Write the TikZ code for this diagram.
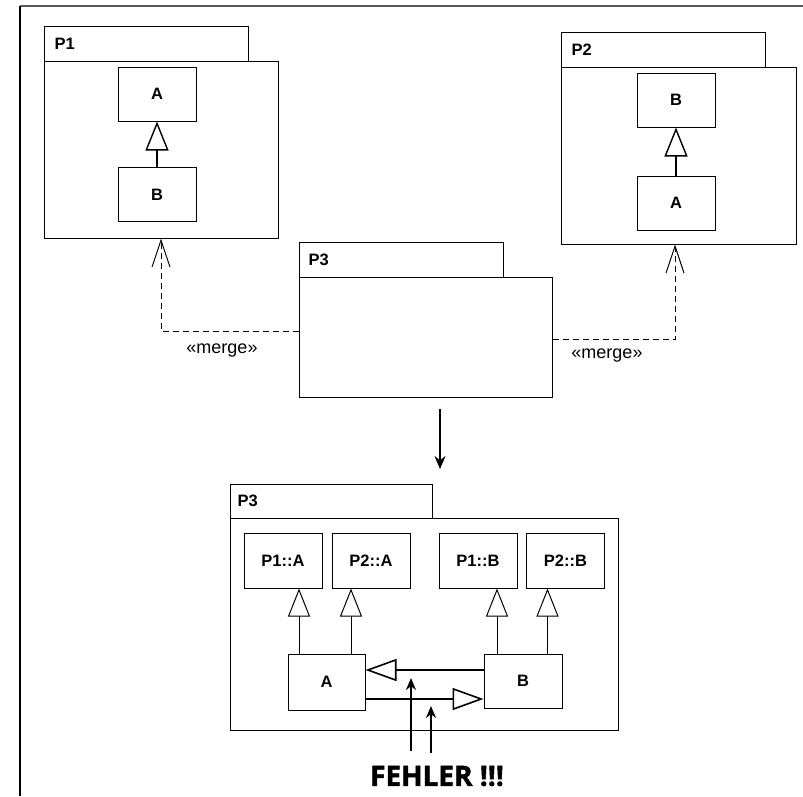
\documentclass[tikz,border=0pt]{standalone}
\usepackage{fontspec}
\setmainfont{Liberation Sans}
\newfontfamily\fehlerfont[BoldFeatures={FakeBold=1.5}]{Open Sans}
\usetikzlibrary{arrows.meta}
\tikzset{
  frame/.style={line width=1.2pt},
  pkgbox/.style={draw, line width=1pt, inner sep=0pt},
  pkglabel/.style={anchor=west, inner sep=0pt, font=\bfseries\fontsize{16.5}{16.5}\selectfont},
  clsbox/.style={draw, line width=1pt, inner sep=0pt, minimum width=78pt, minimum height=54pt, font=\bfseries\fontsize{16.5}{16.5}\selectfont},
  gen/.style={line width=1.6pt, -{Triangle[open, length=29pt, width=23pt, line width=1.4pt]}},
  genthin/.style={line width=1pt, -{Triangle[open, length=28pt, width=22pt, line width=1pt]}},
  genbig/.style={line width=2pt, -{Triangle[open, length=31pt, width=22pt, line width=1.6pt]}},
  merge/.style={dashed, dash pattern=on 6pt off 4pt, line width=1pt, -{Straight Barb[length=27pt, width=18pt, line width=1pt]}},
  mergelabel/.style={font=\fontsize{18}{18}\selectfont, inner sep=0pt},
  flow/.style={line width=1.3pt, -{Stealth[length=13pt, width=11pt]}},
  err/.style={line width=2pt, -{Stealth[length=12pt, width=10pt]}},
}
\begin{document}
\begin{tikzpicture}[x=1pt, y=-1pt]
\useasboundingbox (0,0) rectangle (803,796);
\fill[white] (0,0) rectangle (803,796);
% outer frame
\draw[frame, gray!70!black] (20,6) -- (803,6);
\draw[frame] (20,6) -- (20,796);

% ---------- P1 ----------
\node[pkgbox, minimum width=204pt, minimum height=35pt] (p1tab) at (146,43.5) {};
\node[pkgbox, minimum width=234pt, minimum height=177pt] (p1) at (161,149.5) {};
\node[pkglabel] (p1lab) at ([xshift=11pt]p1tab.west) {P1};
\node[clsbox] (p1A) at (157,94) {A};
\node[clsbox] (p1B) at (157,194.5) {B};
\draw[gen] (p1B.north) -- (p1A.south);

% ---------- P2 ----------
\node[pkgbox, minimum width=204pt, minimum height=35pt] (p2tab) at (663,49.5) {};
\node[pkgbox, minimum width=235pt, minimum height=177pt] (p2) at (678.5,155.5) {};
\node[pkglabel] (p2lab) at ([xshift=11pt]p2tab.west) {P2};
\node[clsbox] (p2B) at (676,100) {B};
\node[clsbox] (p2A) at (676,203) {A};
\draw[gen] (p2A.north) -- (p2B.south);

% ---------- P3 (top) ----------
\node[pkgbox, minimum width=204pt, minimum height=35pt] (p3tab) at (401,259.5) {};
\node[pkgbox, minimum width=253pt, minimum height=120pt] (p3) at (425.5,337) {};
\node[pkglabel] (p3lab) at ([xshift=10pt]p3tab.west) {P3};

% merge dependencies
\coordinate (mL) at (161,331);
\draw[merge] (p3.west |- mL) -- (mL) -- (mL |- p1.south);
\node[mergelabel] (ml1) at (222,351) {«merge»};
\coordinate (mR) at (675,339);
\draw[merge] (p3.east |- mR) -- (mR) -- (mR |- p2.south);
\node[mergelabel] (ml2) at (607,356) {«merge»};

% transformation arrow
\coordinate (dtop) at (440,409);
\coordinate (dbot) at (440,469);
\draw[flow] (dtop) -- (dbot);

% ---------- P3 (merged) ----------
\node[pkgbox, minimum width=202pt, minimum height=34pt] (q3tab) at (331,501) {};
\node[pkgbox, minimum width=388pt, minimum height=212pt] (q3) at (424,624) {};
\node[pkglabel] (q3lab) at ([xshift=8pt]q3tab.west) {P3};

\node[clsbox, minimum height=55pt] (qP1A) at (283,560.5) {P1::A};
\node[clsbox, minimum height=55pt] (qP2A) at (371,560.5) {P2::A};
\node[clsbox, minimum height=55pt] (qP1B) at (478,560.5) {P1::B};
\node[clsbox, minimum height=55pt] (qP2B) at (565.5,560.5) {P2::B};
\node[clsbox, minimum width=77pt, minimum height=56pt] (qA) at (326.5,682) {A};
\node[clsbox, minimum width=78pt, minimum height=54pt] (qB) at (523,681) {B};

\coordinate (a1) at ([xshift=-27.5pt]qA.north);
\coordinate (a2) at ([xshift=24.5pt]qA.north);
\coordinate (b1) at ([xshift=-26pt]qB.north);
\coordinate (b2) at ([xshift=24.5pt]qB.north);
\draw[genthin] (a1) -- (a1 |- qP1A.south);
\draw[genthin] (a2) -- (a2 |- qP2A.south);
\draw[genthin] (b1) -- (b1 |- qP1B.south);
\draw[genthin] (b2) -- (b2 |- qP2B.south);

\coordinate (h1) at ([yshift=12pt]qA.east);
\coordinate (h2) at ([yshift=-17pt]qA.east);
\draw[genbig] (h1 -| qB.west) -- (h1);
\draw[genbig] (h2) -- (h2 -| qB.west);

% error annotation
\node[font=\fehlerfont\bfseries\fontsize{28}{28}\selectfont, inner sep=0pt] (fehler) at (437,776) {FEHLER !!!};
\coordinate (e1) at (411,751);
\coordinate (e2) at (431,753);
\draw[err] (e1) -- ([yshift=-8pt]e1 |- h1);
\draw[err] (e2) -- ([yshift=-7pt]e2 |- h2);
\end{tikzpicture}
\end{document}
